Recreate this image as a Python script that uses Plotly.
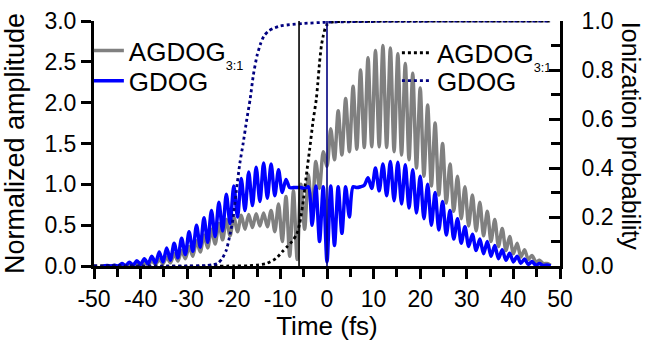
import numpy as np
import plotly.graph_objects as go

# ---------------- data ----------------
# sampling instants of the oscillation extrema (fs): -48 ... 48, half-period 0.8 fs
t_osc = np.round(np.arange(-48, 48.001, 0.8), 2)

gdog_amp = [
    0.0, 0.005, 0.0, 0.01, 0.0, 0.03, 0.005, 0.045, 0.01, 0.065,
    0.02, 0.09, 0.025, 0.12, 0.035, 0.17, 0.05, 0.22, 0.07, 0.28,
    0.10, 0.34, 0.14, 0.42, 0.18, 0.50, 0.23, 0.59, 0.29, 0.68,
    0.36, 0.78, 0.43, 0.88, 0.52, 0.98, 0.60, 1.07, 0.68, 1.15,
    0.74, 1.21, 0.79, 1.26, 0.83, 1.25, 0.86, 1.18, 0.90, 1.06,
    0.96, 0.96, 0.96, 0.96, 0.95, 0.97, 0.50, 0.98, 0.30, 0.97,
    0.05, 0.98, 0.25, 0.97, 0.40, 0.97, 0.60, 0.97, 0.96, 0.97,
    0.99, 1.08, 0.95, 1.20, 0.92, 1.25, 0.86, 1.28, 0.80, 1.27,
    0.76, 1.24, 0.71, 1.18, 0.65, 1.10, 0.58, 1.00, 0.50, 0.90,
    0.44, 0.79, 0.38, 0.68, 0.33, 0.58, 0.28, 0.48, 0.24, 0.39,
    0.19, 0.33, 0.15, 0.30, 0.12, 0.25, 0.09, 0.20, 0.07, 0.155,
    0.05, 0.12, 0.035, 0.085, 0.02, 0.055, 0.01, 0.03, 0.005, 0.012,
    0.0,
]

agdog_amp = [
    0.0, 0.003, 0.0, 0.006, 0.0, 0.01, 0.002, 0.018, 0.005, 0.03,
    0.01, 0.045, 0.015, 0.06, 0.02, 0.08, 0.03, 0.11, 0.04, 0.15,
    0.06, 0.19, 0.09, 0.24, 0.12, 0.31, 0.17, 0.38, 0.22, 0.45,
    0.27, 0.52, 0.32, 0.57, 0.37, 0.60, 0.42, 0.62, 0.45, 0.63,
    0.47, 0.64, 0.49, 0.65, 0.48, 0.68, 0.42, 0.76, 0.30, 0.85,
    0.12, 0.92, 0.08, 1.00, 0.45, 1.12, 0.62, 1.28, 0.95, 1.40,
    1.22, 1.68, 1.30, 1.90, 1.36, 2.05, 1.40, 2.20, 1.43, 2.40,
    1.45, 2.55, 1.46, 2.64, 1.46, 2.70, 1.45, 2.67, 1.40, 2.60,
    1.36, 2.48, 1.30, 2.36, 1.20, 2.18, 1.10, 1.97, 0.98, 1.75,
    0.87, 1.50, 0.77, 1.25, 0.67, 1.10, 0.58, 0.97, 0.49, 0.87,
    0.43, 0.78, 0.37, 0.67, 0.30, 0.57, 0.24, 0.46, 0.19, 0.36,
    0.15, 0.28, 0.11, 0.20, 0.08, 0.13, 0.05, 0.07, 0.03, 0.03,
    0.01,
]

# ionization probability (right axis)
t_ion_gdog = [-50, -30, -26, -24.5, -23.5, -22.5, -21.6, -20.8, -20.2, -19.5,
              -18.7, -18, -17.2, -16.5, -15.8, -15, -14.2, -13.5, -12.5, -11.5,
              -10, -8, -5, 0, 5, 10, 20, 48]
p_ion_gdog = [0, 0, 0.002, 0.005, 0.01, 0.03, 0.065, 0.13, 0.19, 0.30,
              0.42, 0.50, 0.60, 0.68, 0.78, 0.86, 0.91, 0.94, 0.96, 0.97,
              0.98, 0.985, 0.99, 0.995, 0.997, 0.998, 0.999, 1.0]

t_ion_agdog = [-50, -20, -17, -15, -13, -11, -9.5, -8.5, -7.5, -6.5,
               -5.9, -5.2, -4.5, -3.7, -3.0, -2.3, -2.0, -1.6, -1.2, -0.8,
               -0.4, 0, 1, 3, 10, 48]
p_ion_agdog = [0, 0, 0.001, 0.004, 0.01, 0.03, 0.06, 0.08, 0.10, 0.13,
               0.17, 0.25, 0.36, 0.48, 0.59, 0.68, 0.74, 0.83, 0.90, 0.94,
               0.97, 0.985, 0.995, 0.998, 0.999, 1.0]

vline_times = [-6, 0]
vline_colors = ["#000000", "#000080"]

x_tickvals = [-50, -40, -30, -20, -10, 0, 10, 20, 30, 40, 50]
x_ticktext = ["-50", "-40", "-30", "-20", "-10", "0", "10", "20", "30", "40", "50"]

FONT = "Liberation Sans, Arial, sans-serif"
LEG1 = "AGDOG<sub><sub>3:1</sub></sub>"

fig = go.Figure()
fig.add_trace(go.Scatter(x=t_osc, y=agdog_amp, mode="lines", name=LEG1,
                         line=dict(color="#808080", width=3.5, shape="spline", smoothing=0.8),
                         legend="legend"))
fig.add_trace(go.Scatter(x=t_osc, y=gdog_amp, mode="lines", name="GDOG",
                         line=dict(color="#0000FF", width=3.5, shape="spline", smoothing=0.8),
                         legend="legend2"))
fig.add_trace(go.Scatter(x=t_ion_agdog, y=p_ion_agdog, mode="lines", name=LEG1,
                         line=dict(color="#000000", width=2.8, dash="dot", shape="spline", smoothing=0.6),
                         yaxis="y2", legend="legend3"))
fig.add_trace(go.Scatter(x=t_ion_gdog, y=p_ion_gdog, mode="lines", name="GDOG",
                         line=dict(color="#000080", width=2.8, dash="dot", shape="spline", smoothing=0.6),
                         yaxis="y2", legend="legend4"))

for xv, c in zip(vline_times, vline_colors):
    fig.add_vline(x=xv, line=dict(color=c, width=1.6))

axis_common = dict(showline=True, linewidth=3, linecolor="black", tickwidth=3,
                   tickcolor="black", showgrid=False, zeroline=False, automargin=False,
                   tickfont=dict(family=FONT, size=23, color="black"))

leg_common = dict(xanchor="left", yanchor="top", bgcolor="rgba(0,0,0,0)",
                  font=dict(family=FONT, size=26, color="black"))

fig.update_layout(
    width=645, height=341,
    margin=dict(l=94, r=85, t=21, b=75, autoexpand=False),
    plot_bgcolor="white", paper_bgcolor="white",
    font=dict(family=FONT, color="black"),
    xaxis=dict(range=[-50, 50], tickmode="array", tickvals=x_tickvals, ticktext=x_ticktext,
               ticks="outside", ticklen=10,
               minor=dict(dtick=5, tick0=0, ticks="outside", ticklen=8, tickwidth=3, tickcolor="black"),
               title=dict(text="Time (fs)", font=dict(family=FONT, size=26), standoff=0),
               **axis_common),
    xaxis2=dict(range=[-50, 50], overlaying="x", side="top", anchor="y", matches="x",
                showticklabels=False, ticks="inside", ticklen=11, dtick=5, tick0=0,
                **axis_common),
    yaxis=dict(range=[0, 3], dtick=0.5, tick0=0, tickformat=".1f", ticks="outside", ticklen=10,
               title=dict(text="Normalized amplitude", font=dict(family=FONT, size=27), standoff=13),
               **axis_common),
    yaxis2=dict(range=[0, 1], overlaying="y", side="right", anchor="x", dtick=0.2, tick0=0,
                tickformat=".1f", ticks="inside", ticklen=11,
                minor=dict(dtick=0.1, tick0=0, ticks="inside", ticklen=9, tickwidth=3, tickcolor="black"),
                ticklabelstandoff=14,
                **axis_common),
    legend=dict(x=-0.011, y=0.975, **leg_common),
    legend2=dict(x=-0.011, y=0.852, **leg_common),
    legend3=dict(x=0.65, y=0.966, **leg_common),
    legend4=dict(x=0.65, y=0.852, **leg_common),
    showlegend=True,
)

fig.add_annotation(text="Ionization probability", textangle=90, xref="paper", yref="paper",
                   x=1.151, y=0.53, xanchor="center", yanchor="middle", showarrow=False,
                   font=dict(family=FONT, size=25, color="black"))

fig.write_html("out.html", config={"displayModeBar": False},
               post_script="document.body.style.margin='0px';")
